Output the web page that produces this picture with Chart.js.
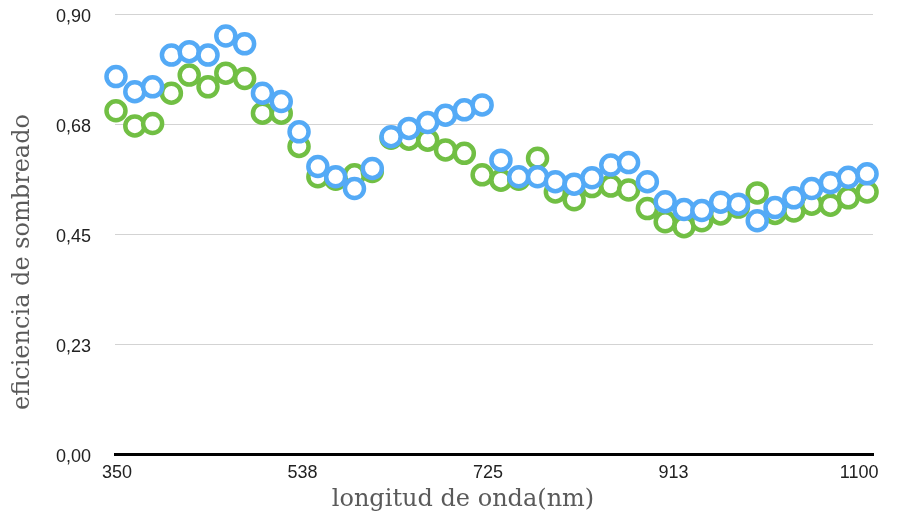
<!DOCTYPE html>
<html>
<head>
<meta charset="utf-8">
<script src="https://cdn.jsdelivr.net/npm/chart.js@4/dist/chart.umd.min.js"></script>
<style>
  html, body { margin: 0; padding: 0; background: #ffffff; }
  #wrap { width: 898px; height: 520px; position: relative; }
</style>
</head>
<body>
<div id="wrap"><canvas id="c" width="898" height="520"></canvas></div>
<script>
// Wavelengths (nm) of the samples
const wavelengths = [349, 368, 386, 405, 423, 442, 460, 479, 497, 516, 534, 553, 571, 590, 608, 627, 645, 664, 682, 701, 719, 738, 756, 775, 793, 812, 830, 849, 867, 886, 904, 923, 941, 960, 978, 997, 1015, 1034, 1052, 1071, 1089, 1108];

// Shading efficiency, blue series
const seriesBlue = [0.772, 0.741, 0.751, 0.816, 0.823, 0.816, 0.855, 0.839, 0.738, 0.721, 0.659, 0.588, 0.567, 0.543, 0.584, 0.649, 0.666, 0.678, 0.693, 0.704, 0.714, 0.601, 0.567, 0.567, 0.557, 0.552, 0.565, 0.591, 0.596, 0.557, 0.516, 0.500, 0.498, 0.515, 0.511, 0.477, 0.504, 0.524, 0.543, 0.555, 0.566, 0.573];

// Shading efficiency, green series
const seriesGreen = [0.702, 0.671, 0.676, 0.738, 0.775, 0.751, 0.779, 0.768, 0.697, 0.697, 0.629, 0.567, 0.562, 0.571, 0.578, 0.646, 0.644, 0.642, 0.622, 0.615, 0.571, 0.560, 0.562, 0.605, 0.536, 0.520, 0.547, 0.548, 0.540, 0.502, 0.475, 0.465, 0.477, 0.491, 0.505, 0.534, 0.492, 0.497, 0.511, 0.509, 0.524, 0.536];

// Axis ticks and their labels
const xTickValues = [350, 537.5, 725, 912.5, 1100];
const xTickLabels = ['350', '538', '725', '913', '1100'];
const yTickValues = [0, 0.225, 0.45, 0.675, 0.9];
const yTickLabels = ['0,00', '0,23', '0,45', '0,68', '0,90'];

// Axis titles
const xTitle = 'longitud de onda(nm)';
const yTitle = 'eficiencia de sombreado';

const BLUE = '#54aaf6';
const GREEN = '#71bf44';
const TITLE_FONT = '24px "DejaVu Serif", "Liberation Serif", serif';
const TICK_FONT = { family: '"Liberation Sans", Arial, sans-serif', size: 18 };

function toPoints(xs, ys) {
  return xs.map((x, i) => ({ x: x, y: ys[i] }));
}

function markerStyle(color) {
  return {
    showLine: false,
    pointRadius: 9.5,
    pointHoverRadius: 9.5,
    pointBorderWidth: 4.5,
    pointBackgroundColor: '#ffffff',
    pointBorderColor: color,
    borderColor: color,
    backgroundColor: '#ffffff',
    clip: false
  };
}

// Axis titles drawn as canvas text, placed relative to the whole figure
const axisTitles = {
  id: 'axisTitles',
  afterDraw(chart) {
    const ctx = chart.ctx;
    ctx.save();
    ctx.fillStyle = '#5a5a5a';
    ctx.font = TITLE_FONT;
    ctx.textAlign = 'center';
    ctx.textBaseline = 'middle';
    ctx.fillText(xTitle, 463, 500);
    ctx.translate(23, 262);
    ctx.rotate(-Math.PI / 2);
    ctx.fillText(yTitle, 0, 0);
    ctx.restore();
  }
};

new Chart(document.getElementById('c'), {
  type: 'scatter',
  data: {
    datasets: [
      Object.assign({ label: 'azul', data: toPoints(wavelengths, seriesBlue), order: 0 }, markerStyle(BLUE)),
      Object.assign({ label: 'verde', data: toPoints(wavelengths, seriesGreen), order: 1 }, markerStyle(GREEN))
    ]
  },
  plugins: [axisTitles],
  options: {
    responsive: false,
    animation: false,
    events: [],
    layout: { padding: { left: 0, right: 25, top: 14, bottom: 0 } },
    plugins: {
      legend: { display: false },
      tooltip: { enabled: false }
    },
    scales: {
      x: {
        type: 'linear',
        min: 348,
        max: 1114,
        afterBuildTicks: (s) => { s.ticks = xTickValues.map(v => ({ value: v })); },
        afterFit: (s) => { s.height = 66; s.paddingLeft = 0; s.paddingRight = 0; },
        grid: { display: false, drawTicks: false },
        border: { display: true, color: '#000000', width: 3 },
        ticks: {
          padding: 8,
          maxRotation: 0,
          autoSkip: false,
          color: '#222222',
          font: TICK_FONT,
          callback: (v) => xTickLabels[xTickValues.indexOf(v)]
        }
      },
      y: {
        type: 'linear',
        min: 0,
        max: 0.9,
        afterBuildTicks: (s) => { s.ticks = yTickValues.map(v => ({ value: v })); },
        afterFit: (s) => { s.width = 115; s.paddingTop = 0; s.paddingBottom = 0; },
        grid: { color: '#d3d3d3', lineWidth: 1, drawTicks: false },
        border: { display: false },
        ticks: {
          padding: 24,
          labelOffset: 3,
          autoSkip: false,
          color: '#222222',
          font: TICK_FONT,
          callback: (v) => yTickLabels[yTickValues.indexOf(v)]
        }
      }
    }
  }
});
</script>
</body>
</html>
